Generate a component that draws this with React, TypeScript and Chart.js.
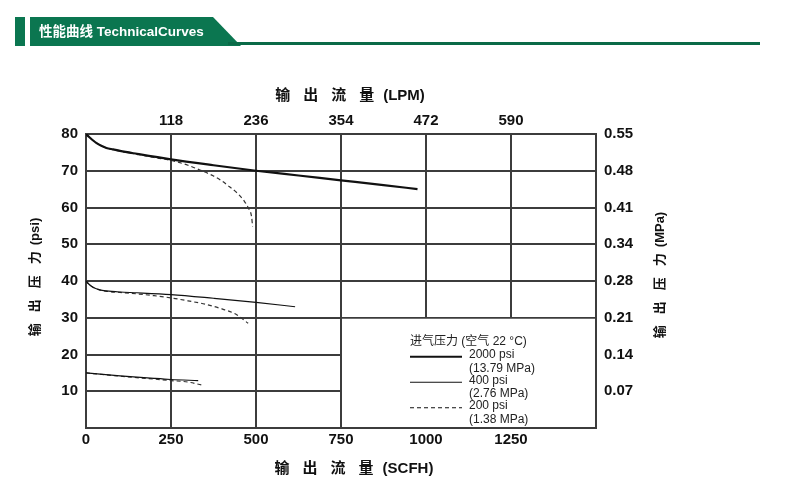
import React, { useEffect, useRef } from "react";
import { Chart, registerables } from "chart.js";

Chart.register(...registerables);

// ---- axis tick labels ----
const scfhTickLabels = [0, 250, 500, 750, 1000, 1250];
const lpmTickLabels = [118, 236, 354, 472, 590];
const psiTickLabels = [10, 20, 30, 40, 50, 60, 70, 80];
const mpaTickLabels = ["0.07", "0.14", "0.21", "0.28", "0.34", "0.41", "0.48", "0.55"];

// ---- series (flow SCFH -> outlet psi) ----
const highSolidFlow = [0, 10, 20, 30, 45, 60, 80, 100, 150, 250, 375, 500, 625, 750, 875, 975];
const highSolidPsi = [80, 79.1, 78.3, 77.6, 76.8, 76.2, 75.8, 75.4, 74.6, 73.1, 71.5, 70, 68.7, 67.4, 66.1, 65];

const highDashFlow = [0, 10, 20, 30, 45, 60, 80, 100, 150, 200, 250, 300, 335, 370, 395, 420, 445, 465, 478, 487, 490];
const highDashPsi = [80, 79.1, 78.3, 77.6, 76.8, 76.2, 75.7, 75.3, 74.5, 73.6, 72.8, 71.5, 70.2, 68.8, 67.5, 65.8, 63.9, 61.8, 59.8, 57.5, 54.8];

const midSolidFlow = [0, 8, 16, 25, 40, 60, 100, 150, 250, 375, 500, 615];
const midSolidPsi = [40, 39.2, 38.6, 38.1, 37.6, 37.3, 37.0, 36.8, 36.3, 35.3, 34.2, 33];

const midDashFlow = [0, 8, 16, 25, 40, 60, 100, 150, 200, 250, 300, 350, 400, 440, 477];
const midDashPsi = [40, 39.2, 38.6, 38.1, 37.6, 37.2, 36.9, 36.5, 36, 35.4, 34.6, 33.7, 32.4, 31, 28.5];

const lowSolidFlow = [0, 100, 200, 250, 330];
const lowSolidPsi = [15, 14.2, 13.5, 13.2, 12.9];

const lowDashFlow = [0, 100, 200, 250, 300, 340];
const lowDashPsi = [15, 14.1, 13.3, 12.9, 12.5, 11.7];

// ---- legend ----
const legendTitle = "进气压力 (空气 22 °C)";
const legendLabels = ["2000 psi", "400 psi", "200 psi"];
const legendSubLabels = ["(13.79 MPa)", "(2.76 MPa)", "(1.38 MPa)"];

const headerText = "性能曲线 TechnicalCurves";
const flowTitleChars = ["输", "出", "流", "量"];
const pressureTitleChars = ["输", "出", "压", "力"];

const FONT = '"Liberation Sans", Arial, "Noto Sans CJK SC", sans-serif';
const GRID = "#3c3c3c";
const INK = "#111";

const pts = (xs: number[], ys: number[]) => xs.map((x, i) => ({ x, y: ys[i] }));

function drawSpaced(
  ctx: CanvasRenderingContext2D,
  chars: string[],
  suffix: string,
  pitch: number,
  gap: number
) {
  const charW = ctx.measureText(chars[0]).width;
  const sufW = ctx.measureText(suffix).width;
  const total = (chars.length - 1) * pitch + charW + gap + sufW;
  const x = -total / 2;
  ctx.textAlign = "left";
  ctx.textBaseline = "middle";
  chars.forEach((c, i) => ctx.fillText(c, x + i * pitch, 0));
  ctx.fillText(suffix, x + (chars.length - 1) * pitch + charW + gap, 0);
}

const decorPlugin = {
  id: "decor",
  beforeDraw(chart: any) {
    const ctx: CanvasRenderingContext2D = chart.ctx;
    ctx.save();
    ctx.fillStyle = "#ffffff";
    ctx.fillRect(0, 0, chart.width, chart.height);
    // header
    ctx.fillStyle = "#0b7650";
    ctx.fillRect(15, 17, 10, 29);
    ctx.beginPath();
    ctx.moveTo(30, 17);
    ctx.lineTo(213, 17);
    ctx.lineTo(241, 46);
    ctx.lineTo(30, 46);
    ctx.closePath();
    ctx.fill();
    ctx.fillStyle = "#0a6a47";
    ctx.fillRect(228, 42, 532, 3);
    ctx.fillStyle = "#ffffff";
    ctx.font = `bold 13.5px ${FONT}`;
    ctx.textBaseline = "middle";
    ctx.textAlign = "left";
    ctx.fillText(headerText, 39, 32.5);
    ctx.restore();
  },
  beforeDatasetsDraw(chart: any) {
    const ctx: CanvasRenderingContext2D = chart.ctx;
    const xs = chart.scales.x;
    const ys = chart.scales.y;
    const a = chart.chartArea;
    const lx = xs.getPixelForValue(750);
    const ty = ys.getPixelForValue(30);
    ctx.save();
    ctx.fillStyle = "#ffffff";
    ctx.fillRect(lx + 1, ty + 1, a.right - 1 - (lx + 1), a.bottom - 1 - (ty + 1));
    ctx.restore();
  },
  afterDatasetsDraw(chart: any) {
    const ctx: CanvasRenderingContext2D = chart.ctx;
    const xs = chart.scales.x;
    const ys = chart.scales.y;
    const a = chart.chartArea;
    const bx = xs.getPixelForValue(750);
    const by = ys.getPixelForValue(30);
    ctx.save();
    // legend
    ctx.fillStyle = "#222";
    ctx.font = `12px ${FONT}`;
    ctx.textAlign = "left";
    ctx.textBaseline = "middle";
    const lx0 = bx + 69;
    ctx.fillText(legendTitle, lx0, by + 24);
    const styles = [
      { w: 2.2, dash: [] as number[] },
      { w: 1.1, dash: [] as number[] },
      { w: 1.1, dash: [4, 3] },
    ];
    legendLabels.forEach((lab, i) => {
      const y = by + 38 + i * 25.5;
      ctx.strokeStyle = "#111";
      ctx.lineWidth = styles[i].w;
      ctx.setLineDash(styles[i].dash);
      ctx.beginPath();
      ctx.moveTo(lx0, y + 1);
      ctx.lineTo(lx0 + 52, y + 1);
      ctx.stroke();
      ctx.setLineDash([]);
      ctx.fillText(lab, lx0 + 59, y - 1);
      ctx.fillText(legendSubLabels[i], lx0 + 59, y + 12.5);
    });

    // axis titles
    ctx.fillStyle = INK;
    ctx.font = `bold 15px ${FONT}`;
    const cx = (a.left + a.right) / 2;
    ctx.save();
    ctx.translate(cx + 9, 96);
    drawSpaced(ctx, flowTitleChars, "(LPM)", 28, 9);
    ctx.restore();
    ctx.save();
    ctx.translate(cx + 13, 469);
    drawSpaced(ctx, flowTitleChars, "(SCFH)", 28, 9);
    ctx.restore();

    ctx.font = `bold 13px ${FONT}`;
    const cy = (a.top + a.bottom) / 2;
    ctx.save();
    ctx.translate(35, cy - 4);
    ctx.rotate(-Math.PI / 2);
    drawSpaced(ctx, pressureTitleChars, "(psi)", 24, 6);
    ctx.restore();
    ctx.save();
    ctx.translate(660, cy - 6);
    ctx.rotate(-Math.PI / 2);
    drawSpaced(ctx, pressureTitleChars, "(MPa)", 24, 6);
    ctx.restore();
    ctx.restore();
  },
};

export default function App() {
  const ref = useRef<HTMLCanvasElement | null>(null);

  useEffect(() => {
    if (!ref.current) return;
    const tickFont = { family: FONT, size: 15, weight: "bold" as const };
    const line = (data: any, width: number, dash: number[] = [], color = "#111") => ({
      data,
      borderColor: color,
      borderWidth: width,
      borderDash: dash,
      pointRadius: 0,
      fill: false,
      cubicInterpolationMode: "monotone" as const,
    });
    const chart = new Chart(ref.current, {
      type: "line",
      data: {
        datasets: [
          { label: "2000 psi", ...line(pts(highSolidFlow, highSolidPsi), 2.2) },
          { label: "200 psi", ...line(pts(highDashFlow, highDashPsi), 1.2, [4, 3], "#333") },
          { label: "400 psi", ...line(pts(midSolidFlow, midSolidPsi), 1.2) },
          { label: "200 psi", ...line(pts(midDashFlow, midDashPsi), 1.2, [4, 3], "#333") },
          { label: "400 psi", ...line(pts(lowSolidFlow, lowSolidPsi), 1.2) },
          { label: "200 psi", ...line(pts(lowDashFlow, lowDashPsi), 1.2, [4, 3], "#333") },
        ] as any,
      },
      options: {
        animation: false,
        responsive: false,
        devicePixelRatio: 1,
        layout: { padding: 0 },
        plugins: { legend: { display: false }, tooltip: { enabled: false }, title: { display: false } },
        scales: {
          x: {
            type: "linear",
            position: "bottom",
            min: 0,
            max: 1500,
            afterFit: (s: any) => { s.height = 64; },
            afterBuildTicks: (s: any) => {
              s.ticks = [0, 250, 500, 750, 1000, 1250, 1500].map((v) => ({ value: v }));
            },
            ticks: {
              padding: 3,
              color: INK,
              font: tickFont,
              maxRotation: 0,
              autoSkip: false,
              callback: (v: any) => (scfhTickLabels.includes(Number(v)) ? String(v) : ""),
            },
            grid: { color: GRID, lineWidth: 2, drawTicks: false },
            border: { display: true, color: GRID, width: 2 },
          },
          xTop: {
            type: "linear",
            position: "top",
            min: 0,
            max: 708,
            afterFit: (s: any) => { s.height = 134; },
            afterBuildTicks: (s: any) => {
              s.ticks = [0, 118, 236, 354, 472, 590, 708].map((v) => ({ value: v }));
            },
            ticks: {
              padding: 4,
              color: INK,
              font: tickFont,
              maxRotation: 0,
              autoSkip: false,
              callback: (v: any) => (lpmTickLabels.includes(Number(v)) ? String(v) : ""),
            },
            grid: { display: false, drawTicks: false },
            border: { display: true, color: GRID, width: 2 },
          },
          y: {
            type: "linear",
            position: "left",
            min: 0,
            max: 80,
            afterFit: (s: any) => { s.width = 86; },
            afterBuildTicks: (s: any) => {
              s.ticks = [0, 10, 20, 30, 40, 50, 60, 70, 80].map((v) => ({ value: v }));
            },
            ticks: {
              padding: 8,
              color: INK,
              font: tickFont,
              autoSkip: false,
              callback: (v: any) => (psiTickLabels.includes(Number(v)) ? String(v) : ""),
            },
            grid: { color: GRID, lineWidth: 2, drawTicks: false },
            border: { display: true, color: GRID, width: 2 },
          },
          yRight: {
            type: "linear",
            position: "right",
            min: 0,
            max: 80,
            afterFit: (s: any) => { s.width = 204; },
            afterBuildTicks: (s: any) => {
              s.ticks = [0, 10, 20, 30, 40, 50, 60, 70, 80].map((v) => ({ value: v }));
            },
            ticks: {
              padding: 8,
              color: INK,
              font: tickFont,
              autoSkip: false,
              callback: (v: any) => {
                const i = Math.round(Number(v) / 10) - 1;
                return i >= 0 && i < mpaTickLabels.length ? mpaTickLabels[i] : "";
              },
            },
            grid: { display: false, drawTicks: false },
            border: { display: true, color: GRID, width: 2 },
          },
        },
      } as any,
      plugins: [decorPlugin],
    });
    return () => chart.destroy();
  }, []);

  return (
    <div style={{ position: "fixed", left: 0, top: 0, width: 800, height: 492, background: "#fff" }}>
      <canvas ref={ref} width={800} height={492} style={{ width: 800, height: 492, display: "block" }} />
    </div>
  );
}
